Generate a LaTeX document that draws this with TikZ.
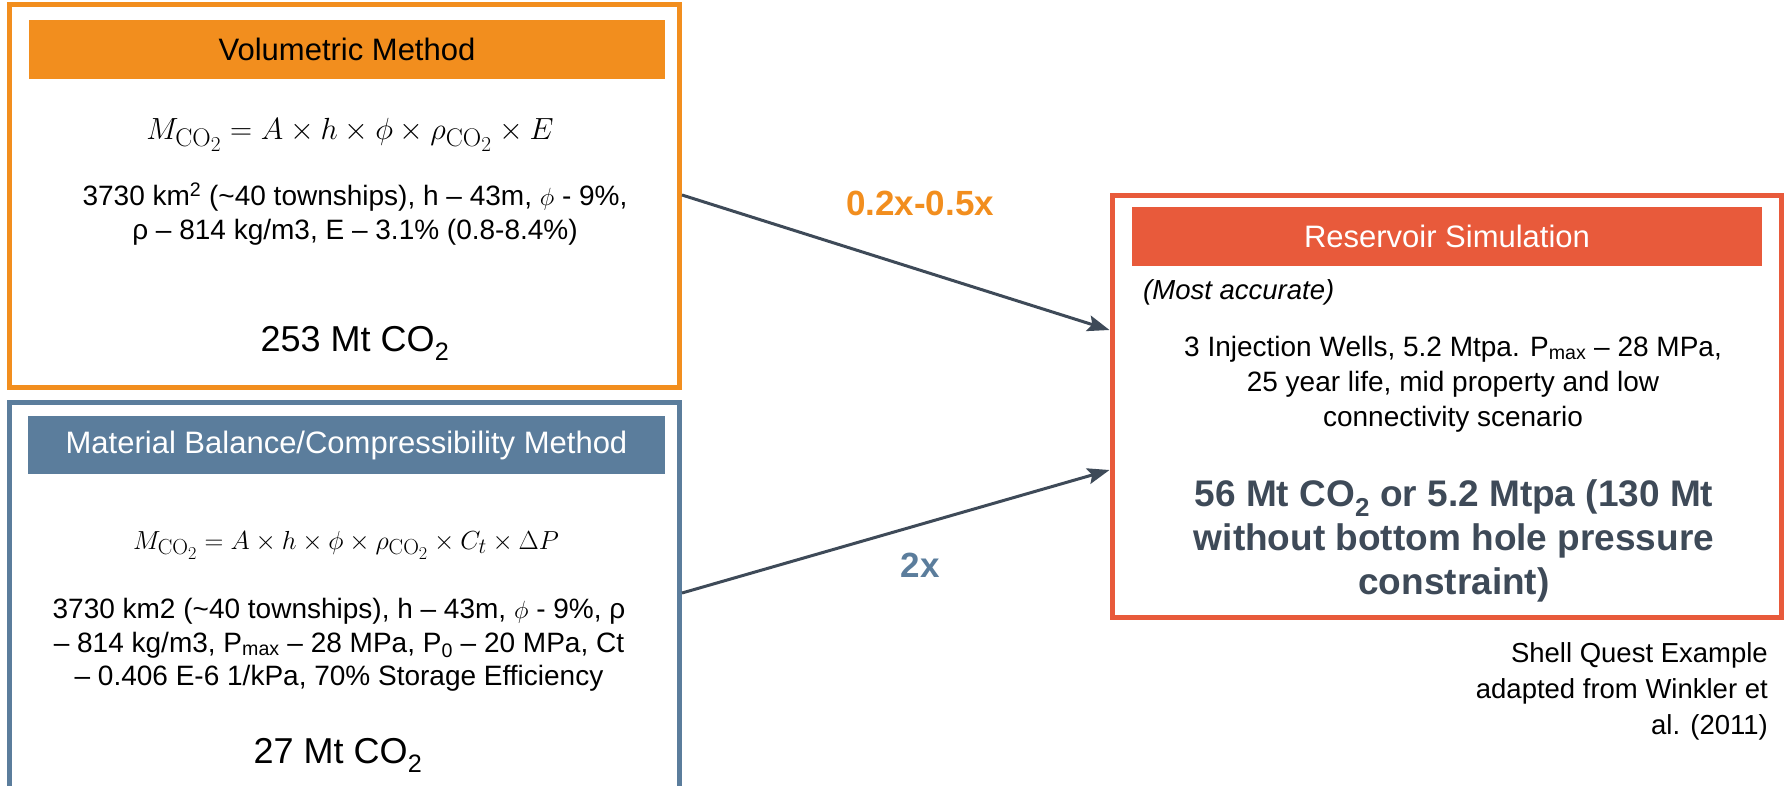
\documentclass[tikz,border=0pt]{standalone}
\usepackage{graphicx}
\usepackage[no-math]{fontspec}
\setmainfont{Liberation Sans}
\usetikzlibrary{arrows.meta}
\definecolor{volorange}{HTML}{F28E1E}
\definecolor{matblue}{HTML}{5B7D9C}
\definecolor{simred}{HTML}{E85A3B}
\definecolor{slate}{HTML}{3E4A58}
\newcommand{\dsub}[1]{\textsubscript{#1}}
\newcommand{\cotwo}{\mathrm{CO}_2}
\begin{document}
\begin{tikzpicture}[x=1pt,y=-1pt,
  frame/.style={draw, line width=5pt, fill=white, inner sep=0pt},
  header/.style={inner sep=0pt, font=\fontsize{31}{36}\selectfont},
  body/.style={align=center, inner sep=0pt, font=\fontsize{28}{33.5}\selectfont},
  total/.style={inner sep=0pt, font=\fontsize{36}{40}\selectfont},
  formula/.style={inner sep=0pt, font=\fontsize{24.88}{30}\selectfont},
  ratio/.style={inner sep=0pt, font=\fontsize{35}{40}\selectfont\bfseries},
  arr/.style={draw=slate, line width=3pt, -{Stealth[length=22pt,width=16pt,inset=4pt]}}]
\useasboundingbox (0,0) rectangle (1785,785);
\clip (0,0) rectangle (1785,785);

% Volumetric method panel
\node[frame, draw=volorange, minimum width=670pt, minimum height=383pt] (vol) at (344.5,195.5) {};
\node[fill=volorange, minimum width=636pt, minimum height=59pt, inner sep=0pt] (volhead) at (347,49.5) {};
\node[header] (voltitle) at (volhead.center) {Volumetric Method};
\node[formula] (volform) at (350,135) {\scalebox{1.23}{$M_{\cotwo} = A\times h\times \phi\times \rho_{\cotwo}\times E$}};
\node[body] (voltext) at (355,214) {3730 km\textsuperscript{2} (\textasciitilde40 townships), h -- 43m, $\phi$ - 9\%,\\ ρ -- 814 kg/m3, E -- 3.1\% (0.8-8.4\%)};
\node[total] (voltotal) at (355,343) {253 Mt CO\dsub{2}};

% Material balance / compressibility panel
\node[frame, draw=matblue, minimum width=670pt, minimum height=390pt] (mat) at (344.5,597) {};
\node[fill=matblue, minimum width=637pt, minimum height=58pt, inner sep=0pt] (mathead) at (346.5,445) {};
\node[header, text=white] (mattitle) at (mathead.center) {Material Balance/Compressibility Method};
\node[formula] (matform) at (346,545) {\scalebox{1.05}{$M_{\cotwo} = A\times h\times \phi\times \rho_{\cotwo}\times C_t\times \Delta P$}};
\node[body] (mattext) at (339,645) {3730 km2 (\textasciitilde40 townships), h -- 43m, $\phi$ - 9\%, ρ\\ -- 814 kg/m3, P\dsub{max} -- 28 MPa, P\dsub{0} -- 20 MPa, Ct\\ -- 0.406 E-6 1/kPa, 70\% Storage Efficiency};
\node[total] (mattotal) at (338,755) {27 Mt CO\dsub{2}};

% Reservoir simulation panel
\node[frame, draw=simred, minimum width=669pt, minimum height=422pt] (res) at (1446.5,406) {};
\node[fill=simred, minimum width=630pt, minimum height=59pt, inner sep=0pt] (reshead) at (1447,236.5) {};
\node[header, text=white] (restitle) at (reshead.center) {Reservoir Simulation};
\node[inner sep=0pt, anchor=west, font=\fontsize{27.5}{32}\selectfont\itshape] (resnote) at (1143,292) {(Most accurate)};
\node[body, font=\fontsize{28}{35}\selectfont] (restext) at (1453,384) {3 Injection Wells, 5.2 Mtpa. P\dsub{max} -- 28 MPa,\\ 25 year life, mid property and low\\ connectivity scenario};
\node[body, text=slate, font=\fontsize{37}{44}\selectfont\bfseries] (restotal) at (1454,541) {56 Mt CO\dsub{2} or 5.2 Mtpa (130 Mt\\ without bottom hole pressure\\ constraint)};

% Source note
\node[align=right, inner sep=0pt, anchor=east, font=\fontsize{27.5}{36}\selectfont] (source) at (1768,691) {Shell Quest Example\\ adapted from Winkler et\\ al. (2011)};

% Comparison arrows
\draw[arr] (vol.east |- 0,195) -- (res.west |- 0,330);
\draw[arr] (mat.east |- 0,593) -- (res.west |- 0,470);
\node[ratio, text=volorange] (volratio) at (920,203) {0.2x-0.5x};
\node[ratio, text=matblue] (matratio) at (920,565) {2x};
\end{tikzpicture}
\end{document}
